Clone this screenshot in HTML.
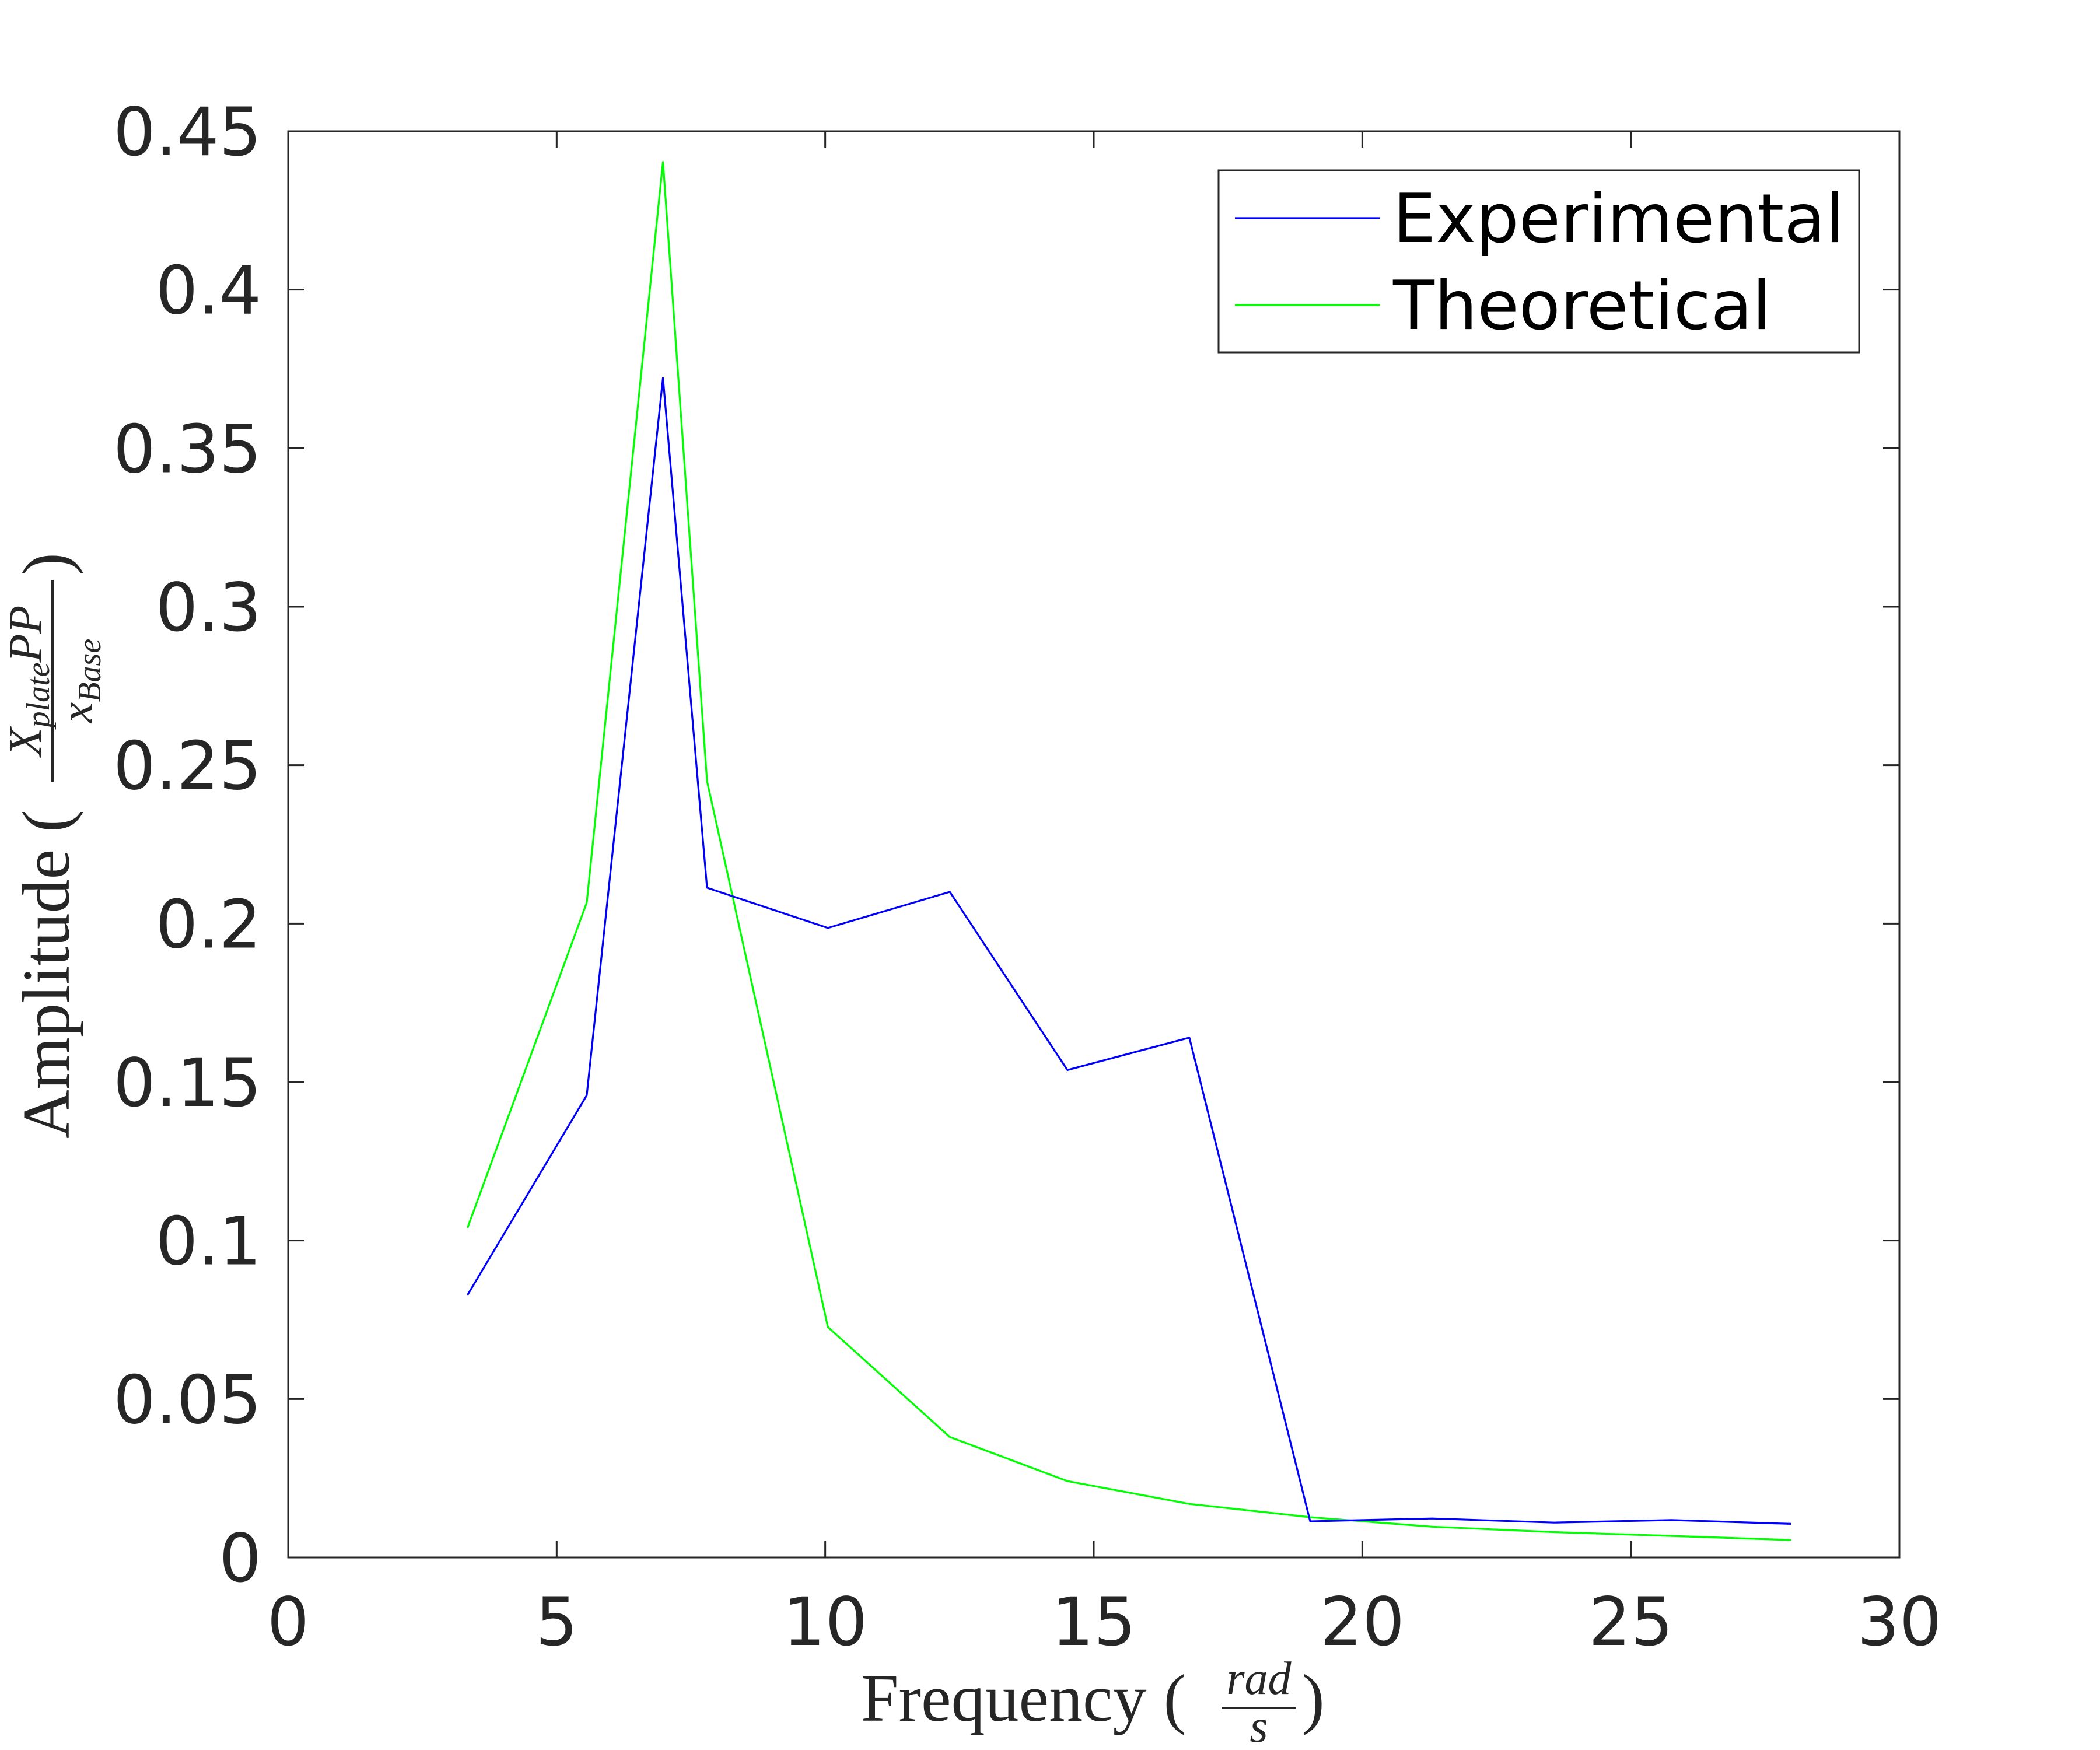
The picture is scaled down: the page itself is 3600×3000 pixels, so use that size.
<!DOCTYPE html>
<html><head><meta charset="utf-8"><style>
html,body{margin:0;padding:0;background:#fff}
svg{display:block}
text{font-family:"DejaVu Sans","Liberation Sans",sans-serif;fill:#262626}
.serif{font-family:"Liberation Serif","DejaVu Serif",serif;fill:#262626}
</style></head><body>
<svg id="chart" width="3600" height="3000" viewBox="0 0 3600 3000" xmlns="http://www.w3.org/2000/svg">
<rect width="3600" height="3000" fill="#fff"/>
<g id="plot"></g>
<g>
  <rect x="2089" y="292" width="1098" height="312" fill="#fff" stroke="#262626" stroke-width="3"/>
  <line x1="2117" x2="2365" y1="374" y2="374" stroke="#0000ff" stroke-width="3.2"/>
  <text x="2388" y="415" font-size="116" style="fill:#000">Experimental</text>
  <line x1="2117" x2="2365" y1="523" y2="523" stroke="#00ff00" stroke-width="3.2"/>
  <text x="2388" y="564" font-size="116" style="fill:#000">Theoretical</text>
</g>
<g>
  <text class="serif" x="1476" y="2950" font-size="116">Frequency (</text>
  <text class="serif" x="2158" y="2904" font-size="80" font-style="italic" text-anchor="middle">rad</text>
  <line x1="2094" x2="2222" y1="2928" y2="2928" stroke="#262626" stroke-width="4"/>
  <text class="serif" x="2158" y="2986" font-size="80" font-style="italic" text-anchor="middle">s</text>
  <text class="serif" x="2232" y="2950" font-size="116">)</text>
</g>
<g transform="translate(118,1952) rotate(-90)">
  <text class="serif" x="0" y="0" font-size="116">Amplitude (</text>
  <text class="serif" x="785" y="-48" font-size="80" font-style="italic" text-anchor="middle">X<tspan font-size="56" dy="14">plate</tspan><tspan dy="-14">PP</tspan></text>
  <line x1="612" x2="958" y1="-28" y2="-28" stroke="#262626" stroke-width="4"/>
  <text class="serif" x="785" y="40" font-size="80" font-style="italic" text-anchor="middle">x<tspan font-size="56" dy="14">Base</tspan></text>
  <text class="serif" x="966" y="0" font-size="116">)</text>
</g>
</svg>
<script>
const freqs = [3.34, 5.56, 6.98, 7.8, 10.05, 12.32, 14.51, 16.78, 19.03, 21.3, 23.57, 25.76, 27.98];
const experimental = [0.0828, 0.1458, 0.3722, 0.2113, 0.1986, 0.21, 0.1538, 0.164, 0.0114, 0.0123, 0.011, 0.0118, 0.0106];
const theoretical = [0.104, 0.2066, 0.4403, 0.245, 0.0727, 0.038, 0.0241, 0.0169, 0.0127, 0.0097, 0.008, 0.0068, 0.0055];
const xTicks = [0, 5, 10, 15, 20, 25, 30];
const yTicks = [0, 0.05, 0.1, 0.15, 0.2, 0.25, 0.3, 0.35, 0.4, 0.45];
const yTickLabels = ["0", "0.05", "0.1", "0.15", "0.2", "0.25", "0.3", "0.35", "0.4", "0.45"];

const L = 494, R = 3256, T = 225, B = 2670;
const xMin = 0, xMax = 30, yMin = 0, yMax = 0.45;
const sx = v => L + (v - xMin) / (xMax - xMin) * (R - L);
const sy = v => B - (v - yMin) / (yMax - yMin) * (B - T);
const NS = "http://www.w3.org/2000/svg";
const g = document.getElementById('plot');
function mk(tag, attrs) {
  const e = document.createElementNS(NS, tag);
  for (const k in attrs) e.setAttribute(k, attrs[k]);
  g.appendChild(e);
  return e;
}
xTicks.forEach(v => {
  const x = sx(v);
  const t1 = mk('line', {x1: x, x2: x, y1: B, y2: B - 28, stroke: '#262626', 'stroke-width': 3});
  
  
  const t2 = mk('line', {x1: x, x2: x, y1: T, y2: T + 28, stroke: '#262626', 'stroke-width': 3});
  
  
  const lb = mk('text', {x: x, y: B + 150, 'font-size': 114, 'text-anchor': 'middle'});
  lb.textContent = String(v);
  
  
});
yTicks.forEach((v, i) => {
  const y = sy(v);
  const t1 = mk('line', {x1: L, x2: L + 28, y1: y, y2: y, stroke: '#262626', 'stroke-width': 3});
  
  
  const t2 = mk('line', {x1: R, x2: R - 28, y1: y, y2: y, stroke: '#262626', 'stroke-width': 3});
  
  
  const lb = mk('text', {x: L - 46, y: y + 41, 'font-size': 114, 'text-anchor': 'end'});
  lb.textContent = yTickLabels[i];
  
  
});
function series(vals, color, name) {
  const pts = freqs.map((f, i) => sx(f).toFixed(1) + ',' + sy(vals[i]).toFixed(1)).join(' ');
  const p = mk('polyline', {points: pts, fill: 'none', stroke: color, 'stroke-width': 3.2, 'stroke-linejoin': 'round'});
  
  
}
series(theoretical, '#00ff00', 'theoretical-line');
series(experimental, '#0000ff', 'experimental-line');
const box = mk('rect', {x: L, y: T, width: R - L, height: B - T, fill: 'none', stroke: '#262626', 'stroke-width': 3});


</script>
</body></html>
